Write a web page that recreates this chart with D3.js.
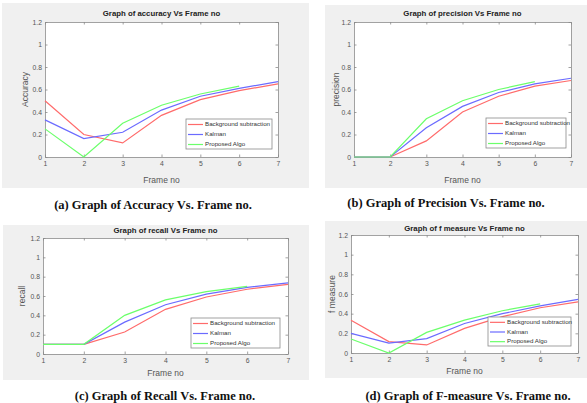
<!DOCTYPE html>
<html><head><meta charset="utf-8">
<script src="https://cdn.jsdelivr.net/npm/d3@7"></script>
<style>body{margin:0;background:#fff}svg{display:block}</style>
</head><body><svg id="c" width="587" height="403"></svg>
<script>
const frames = [1,2,3,4,5,6,7];
const seriesNames = ["Background subtraction","Kalman","Proposed Algo"];
const yTicks = [0,0.2,0.4,0.6,0.8,1,1.2];
const yTickLabels = ["0","0.2","0.4","0.6","0.8","1","1.2"];

const accBg   = [0.50,0.20,0.125,0.37,0.51,0.59,0.65];
const accKal  = [0.33,0.163,0.22,0.417,0.54,0.61,0.67];
const accProp = [0.25,0.0,0.30,0.46,0.56,0.63];

const precBg   = [0,0,0.143,0.40,0.54,0.63,0.68];
const precKal  = [0,0,0.26,0.45,0.573,0.65,0.70];
const precProp = [0,0,0.34,0.50,0.60,0.67];

const recBg   = [0.1,0.1,0.228,0.462,0.59,0.67,0.72];
const recKal  = [0.1,0.1,0.33,0.51,0.62,0.69,0.735];
const recProp = [0.1,0.1,0.40,0.56,0.645,0.70];

const fBg   = [0.334,0.116,0.082,0.25,0.37,0.46,0.52];
const fKal  = [0.20,0.10,0.147,0.30,0.40,0.48,0.546];
const fProp = [0.143,0.0,0.21,0.334,0.43,0.50];

const titles = ["Graph of accuracy Vs Frame no","Graph of precision Vs Frame no","Graph of recall Vs Frame no","Graph of f measure Vs Frame no"];
const yLabels = ["Accuracy","precision","recall","f measure"];
const captions = ["(a) Graph of  Accuracy Vs. Frame no.","(b) Graph of Precision Vs. Frame no.","(c) Graph of Recall Vs. Frame no.","(d) Graph of F-measure Vs. Frame no."];
const colors = ["#ff6b6b","#6b6bff","#6bff6b"];

const SANS = "Arial,'Liberation Sans',sans-serif";
const SERIF = "'Liberation Serif','Times New Roman',serif";

const panels = [
 {data:[accBg,accKal,accProp], bg:[2,3,307,185], plot:[45,22,278,157], titleY:14, yLabX:26, xLabY:181, leg:[186,119,86,30]},
 {data:[precBg,precKal,precProp], bg:[325,5,262,183], plot:[354,22,571,157], titleY:14, yLabX:337, xLabY:181, leg:[486,118,80,30]},
 {data:[recBg,recKal,recProp], bg:[3,225,306,155], plot:[43,238,288,354], titleY:231, yLabX:23, xLabY:374, leg:[191,318,89,30]},
 {data:[fBg,fKal,fProp], bg:[325,221,262,157], plot:[351,235,578,353], titleY:229, yLabX:333, xLabY:372, leg:[488,317,83,29]}
];
const captionPos = [[153,209],[446,207],[165,400],[468,400]];

const svg = d3.select("#c");

panels.forEach((p,i)=>{
  const g = svg.append("g");
  g.append("rect").attr("x",p.bg[0]).attr("y",p.bg[1]).attr("width",p.bg[2]).attr("height",p.bg[3]).attr("fill","#f0f0f0");
  const [x0,y0,x1,y1] = p.plot;
  g.append("rect").attr("x",x0).attr("y",y0).attr("width",x1-x0).attr("height",y1-y0).attr("fill","#fff");
  const x = d3.scaleLinear().domain([1,7]).range([x0,x1]);
  const y = d3.scaleLinear().domain([0,1.2]).range([y1,y0]);

  const xa = g.append("g").attr("transform",`translate(0,${y1})`).call(d3.axisBottom(x).tickValues(frames).tickFormat(d3.format("d")).tickSizeInner(-2.5).tickSizeOuter(0).tickPadding(4));
  const xt = g.append("g").attr("transform",`translate(0,${y0})`).call(d3.axisTop(x).tickValues(frames).tickFormat("").tickSizeInner(-2.5).tickSizeOuter(0));
  const ya = g.append("g").attr("transform",`translate(${x0},0)`).call(d3.axisLeft(y).tickValues(yTicks).tickFormat((d,k)=>yTickLabels[k]).tickSizeInner(-2.5).tickSizeOuter(0).tickPadding(3));
  const yr = g.append("g").attr("transform",`translate(${x1},0)`).call(d3.axisRight(y).tickValues(yTicks).tickFormat("").tickSizeInner(-2.5).tickSizeOuter(0));
  [xa,xt,ya,yr].forEach(a=>{
    a.select(".domain").attr("stroke","#8a8a8a").attr("stroke-width",0.8);
    a.selectAll(".tick line").attr("stroke","#8a8a8a").attr("stroke-width",0.8);
    a.selectAll("text").attr("fill","#555").attr("font-size",6.8).attr("font-family",SANS);
  });

  const line = d3.line().x((d,k)=>x(frames[k])).y(d=>y(d));
  p.data.forEach((s,k)=>{
    g.append("path").datum(s).attr("d",line).attr("fill","none").attr("stroke",colors[k]).attr("stroke-width",1.2);
  });

  g.append("text").attr("x",(x0+x1)/2).attr("y",p.titleY).attr("text-anchor","middle").attr("dominant-baseline","middle")
    .attr("font-family",SANS).attr("font-size",7.8).attr("font-weight","bold").attr("fill","#222").text(titles[i]);
  g.append("text").attr("x",(x0+x1)/2).attr("y",p.xLabY).attr("text-anchor","middle").attr("dominant-baseline","middle")
    .attr("font-family",SANS).attr("font-size",8.5).attr("fill","#555").text("Frame no");
  g.append("text").attr("transform",`translate(${p.yLabX},${(y0+y1)/2}) rotate(-90)`).attr("text-anchor","middle").attr("dominant-baseline","middle")
    .attr("font-family",SANS).attr("font-size",8.5).attr("fill","#555").text(yLabels[i]);

  const [lx,ly,lw,lh] = p.leg;
  g.append("rect").attr("x",lx).attr("y",ly).attr("width",lw).attr("height",lh).attr("fill","#fff").attr("stroke","#8a8a8a").attr("stroke-width",0.8);
  seriesNames.forEach((n,k)=>{
    const yy = ly + lh*(k+0.5)/3 + 0.5;
    g.append("line").attr("x1",lx+2).attr("x2",lx+17).attr("y1",yy).attr("y2",yy).attr("stroke",colors[k]).attr("stroke-width",1.2);
    g.append("text").attr("x",lx+19).attr("y",yy).attr("dominant-baseline","middle").attr("font-family",SANS).attr("font-size",6.2).attr("fill","#333").text(n);
  });

  svg.append("text").attr("x",captionPos[i][0]).attr("y",captionPos[i][1]).attr("text-anchor","middle")
    .attr("font-family",SERIF).attr("font-weight","bold").attr("font-size",12.5).attr("fill","#111")
    .text(captions[i]);
});
</script></body></html>
